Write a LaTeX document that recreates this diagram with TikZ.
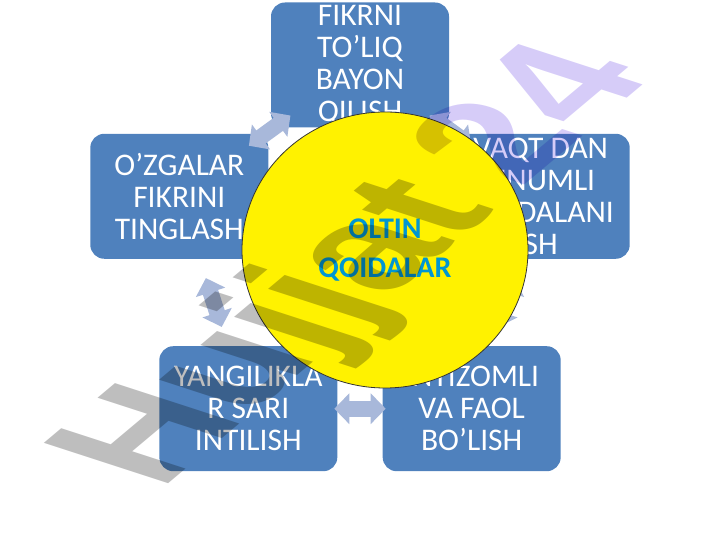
\documentclass[tikz,border=0pt]{standalone}
\usepackage{fontspec}
\setmainfont{Carlito}
\newfontfamily\markfont{Liberation Sans}
\usetikzlibrary{shapes.geometric,arrows.meta,calc}
\definecolor{boxblue}{RGB}{79,129,189}
\definecolor{arrowblue}{RGB}{168,184,218}
\definecolor{titleblue}{RGB}{0,150,210}
\definecolor{markgray}{RGB}{190,190,190}
\definecolor{markviolet}{RGB}{214,204,248}

\begin{document}
\begin{tikzpicture}[x=1pt, y=1pt,
    rulebox/.style={fill=boxblue, rounded corners=14pt, minimum width=178pt, minimum height=125pt,
      inner sep=0pt, align=center, text=white, font=\fontsize{31.5}{32}\selectfont},
    cyclearrow/.style={draw=arrowblue, line width=16pt,
      {Triangle[width=30pt,length=15pt]}-{Triangle[width=30pt,length=15pt]}}]
  \useasboundingbox (0,0) rectangle (720,540);
  \coordinate (mid) at (360,285);

  % caixas
  \foreach \a/\n/\t in {90/1/{FIKRNI\\TO’LIQ\\BAYON\\QILISH},
      18/2/{VAQT DAN\\UNUMLI\\FOYDALANI\\SH},
      -54/3/{INTIZOMLI\\VA FAOL\\BO’LISH},
      -126/4/{YANGILIKLA\\R SARI\\INTILISH},
      162/5/{O’ZGALAR\\FIKRINI\\TINGLASH}} {
    \node[rulebox] (b\n) at ($(mid)+(\a:190)$) {\t};
  }

  % setas
  \foreach \i/\j in {1/2, 2/3, 3/4, 4/5, 5/1} {
    \draw[cyclearrow] ($(b\i)!0.385!(b\j)$) -- ($(b\i)!0.615!(b\j)$);
  }

  % circulo
  \node[ellipse, draw=black!80, line width=0.8pt, fill=yellow, minimum width=286pt, minimum height=276pt,
    align=center, text=titleblue, font=\bfseries\fontsize{30}{39}\selectfont] (oltin) at (385,290) {OLTIN\\QOIDALAR};

  % marca
  \begin{scope}[blend mode=multiply, shift={(160,49)}, cm={1.21,1.016,-1.807,0.587,(0,0)}]
    \node[anchor=base west, inner sep=0pt, transform shape, font=\markfont\bfseries\fontsize{100}{100}\selectfont]
      (hujjat) at (0,0) {\textcolor{markgray}{Hujjat}\hspace{0.2em}\textcolor{markviolet}{24}};
  \end{scope}
\end{tikzpicture}
\end{document}
